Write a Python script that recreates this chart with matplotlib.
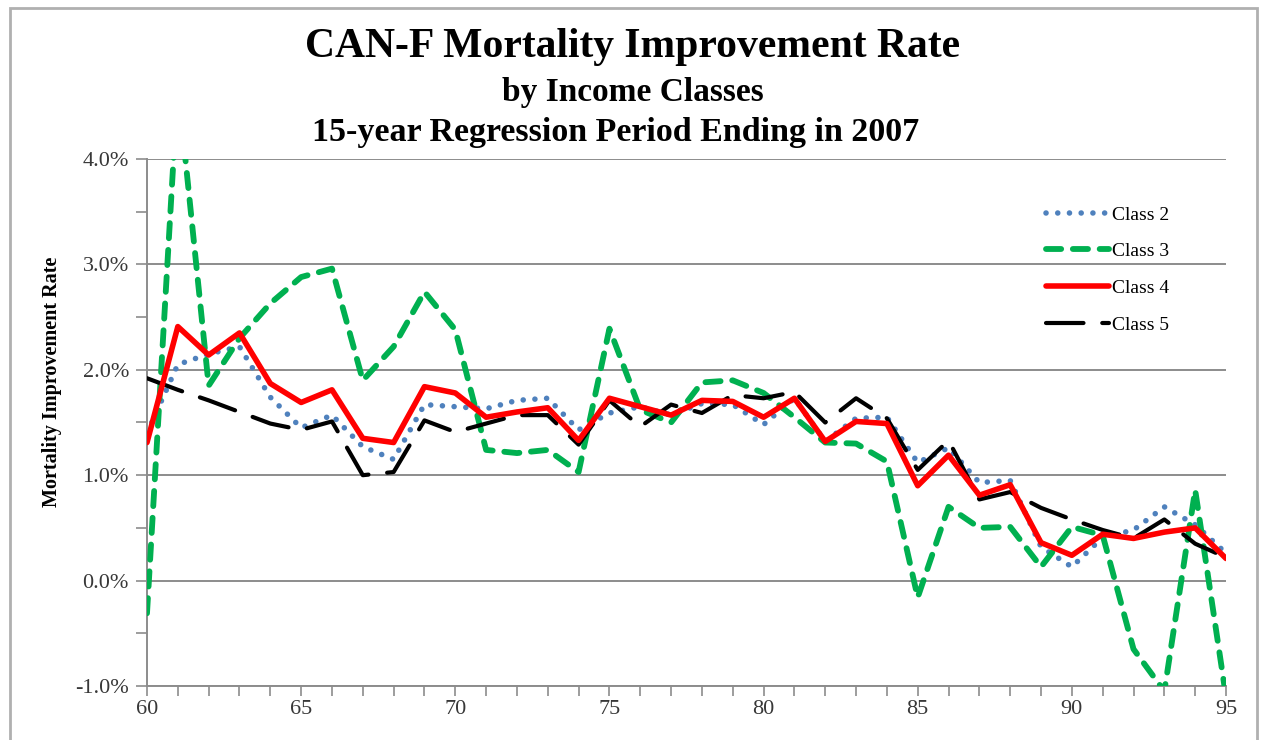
import matplotlib
matplotlib.use("Agg")
import matplotlib.pyplot as plt
from matplotlib.ticker import MultipleLocator, FuncFormatter
from matplotlib.patches import Rectangle

ages = list(range(60, 96))
class2 = [1.40, 2.05, 2.15, 2.22, 1.74, 1.45, 1.57, 1.27, 1.15, 1.67,
          1.65, 1.63, 1.71, 1.73, 1.43, 1.59, 1.65, 1.57, 1.68, 1.67,
          1.48, 1.73, 1.32, 1.54, 1.55, 1.12, 1.26, 0.93, 0.95, 0.32,
          0.13, 0.41, 0.48, 0.70, 0.53, 0.26]
class3 = [-0.31, 4.70, 1.85, 2.30, 2.63, 2.88, 2.96, 1.90, 2.22, 2.74,
          2.38, 1.24, 1.21, 1.24, 1.03, 2.39, 1.62, 1.50, 1.88, 1.90,
          1.78, 1.55, 1.31, 1.30, 1.13, -0.16, 0.70, 0.50, 0.51, 0.13,
          0.51, 0.43, -0.65, -1.05, 0.86, -1.10]
class4 = [1.31, 2.41, 2.14, 2.35, 1.87, 1.69, 1.81, 1.35, 1.31, 1.84,
          1.78, 1.55, 1.60, 1.64, 1.33, 1.73, 1.65, 1.57, 1.71, 1.70,
          1.55, 1.73, 1.32, 1.51, 1.49, 0.90, 1.19, 0.81, 0.91, 0.36,
          0.24, 0.44, 0.40, 0.46, 0.50, 0.21]
class5 = [1.92, 1.81, 1.71, 1.60, 1.49, 1.43, 1.51, 1.00, 1.03, 1.52,
          1.41, 1.49, 1.57, 1.57, 1.29, 1.71, 1.46, 1.67, 1.59, 1.76,
          1.73, 1.79, 1.50, 1.73, 1.54, 1.05, 1.33, 0.77, 0.84, 0.69,
          0.58, 0.48, 0.40, 0.58, 0.35, 0.22]
series_labels = ["Class 2", "Class 3", "Class 4", "Class 5"]
x_ticks = [60, 65, 70, 75, 80, 85, 90, 95]
title_lines = ["CAN-F Mortality Improvement Rate",
               "by Income Classes",
               "15-year Regression Period Ending in 2007"]
y_label = "Mortality Improvement Rate"

plt.rcParams['font.family'] = ['Liberation Serif', 'DejaVu Serif']

fig = plt.figure(figsize=(12.66, 7.40), dpi=100)
ax = fig.add_axes([147/1266, 1 - 686/740, (1226-147)/1266, (686-159)/740])

# frame around the chart
fig.patches.append(Rectangle((10/1266, -0.02), (1257-10)/1266, 1.02 - 8/740,
                             transform=fig.transFigure, fill=False,
                             edgecolor='#b0b0b0', linewidth=2.0))

gray = '#8c8c8c'
ax.plot(ages, class2, color='#4F81BD', linewidth=4.0, linestyle=(0, (0.01, 2.1)),
        dash_capstyle='round', label=series_labels[0], zorder=3)
ax.plot(ages, class3, color='#00B050', linewidth=4.2, linestyle=(0, (2.6, 2.0)),
        dash_capstyle='round', label=series_labels[1], zorder=3)
ax.plot(ages, class4, color='#FF0000', linewidth=4.0, solid_capstyle='round',
        label=series_labels[2], zorder=4)
ax.plot(ages, class5, color='#000000', linewidth=3.0, linestyle=(0, (9, 4.5)),
        dash_capstyle='round', label=series_labels[3], zorder=3)

ax.set_xlim(60, 95)
ax.set_ylim(-1.0, 4.0)
ax.yaxis.set_major_locator(MultipleLocator(1.0))
ax.yaxis.set_minor_locator(MultipleLocator(0.5))
ax.yaxis.set_major_formatter(FuncFormatter(lambda v, p: f"{v:.1f}%"))
ax.set_xticks(x_ticks)
ax.xaxis.set_minor_locator(MultipleLocator(1))
ax.grid(axis='y', which='major', color=gray, linewidth=1.4, zorder=0)
ax.set_axisbelow(True)
for s in ['top', 'right']:
    ax.spines[s].set_visible(False)
for s in ['left', 'bottom']:
    ax.spines[s].set_color(gray)
    ax.spines[s].set_linewidth(1.4)
ax.tick_params(axis='both', which='both', direction='out', color=gray, width=1.2,
               labelsize=16, labelcolor='#383838')
ax.tick_params(axis='y', which='both', length=8, pad=5)
ax.tick_params(axis='x', which='both', length=7, pad=3)

fig.text(52/1266, 1 - 382/740, y_label, rotation=90, ha='center', va='center',
         fontsize=14.5, fontweight='bold')

fig.text(0.5, 1 - 47/740, title_lines[0], ha='center', va='center',
         fontsize=30, fontweight='bold')
fig.text(0.5, 1 - 92/740, title_lines[1], ha='center', va='center',
         fontsize=24, fontweight='bold')
fig.text(616/1266, 1 - 133/740, title_lines[2], ha='center', va='center',
         fontsize=24.5, fontweight='bold')

leg = ax.legend(loc='upper left', bbox_to_anchor=(1046/1266, 1 - 206/740),
                bbox_transform=fig.transFigure, frameon=False, fontsize=14,
                handlelength=3.25, handletextpad=0.15, labelspacing=0.98,
                borderpad=0, borderaxespad=0)

fig.savefig("out.png", dpi=100)
